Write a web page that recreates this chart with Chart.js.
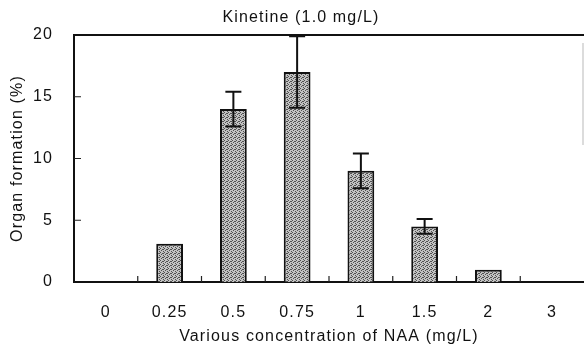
<!DOCTYPE html>
<html>
<head>
<meta charset="utf-8">
<script src="https://cdn.jsdelivr.net/npm/chart.js@4/dist/chart.umd.min.js"></script>
<style>
  html, body { margin: 0; padding: 0; background: #fff; }
</style>
</head>
<body>
<canvas id="organChart" width="584" height="349"></canvas>
<script>
// NAA concentrations (mg/L) and organ formation (%)
const naaLevels = ['0', '0.25', '0.5', '0.75', '1', '1.5', '2', '3'];
const organFormation = [0, 3.1, 14.0, 17.0, 9.0, 4.5, 1.0, 0];
const errors = [0, 0, 1.4, 2.9, 1.4, 0.6, 0, 0];
const yTicks = [0, 5, 10, 15, 20];

const canvas = document.getElementById('organChart');
const ctx = canvas.getContext('2d');

// stippled grey fill like the scanned bars
function makeStipple() {
    const p = document.createElement('canvas');
    p.width = 4; p.height = 4;
    const pc = p.getContext('2d');
    pc.fillStyle = '#c2c2c2';
    pc.fillRect(0, 0, 4, 4);
    pc.fillStyle = '#505050';
    [[0, 0], [2, 1], [1, 2], [3, 3], [3, 1]].forEach(function (d) { pc.fillRect(d[0], d[1], 1, 1); });
    return ctx.createPattern(p, 'repeat');
}

const spacing = {
    id: 'spacing',
    beforeUpdate(chart) { chart.ctx.letterSpacing = '1.15px'; },
    beforeDraw(chart) { chart.ctx.letterSpacing = '1.15px'; }
};

// frame (top/right) and inward tick marks
const frame = {
    id: 'frame',
    afterDatasetsDraw(chart) {
        const c = chart.ctx, a = chart.chartArea;
        const xs = chart.scales.x, ys = chart.scales.y;
        c.save();
        c.strokeStyle = '#111';
        c.lineWidth = 2;
        c.beginPath();
        c.moveTo(a.left, a.top); c.lineTo(a.right, a.top);
        c.stroke();
        c.strokeStyle = '#d0d0d0';
        c.lineWidth = 1.5;
        c.beginPath();
        c.moveTo(a.right - 1, a.top + 8); c.lineTo(a.right - 1, a.top + 110);
        c.stroke();
        c.strokeStyle = '#222';
        c.lineWidth = 1.2;
        c.beginPath();
        for (let i = 1; i < naaLevels.length; i++) {
            const x = (xs.getPixelForValue(i - 1) + xs.getPixelForValue(i)) / 2;
            c.moveTo(x, a.bottom); c.lineTo(x, a.bottom - 6);
        }
        yTicks.slice(1, -1).forEach(function (v) {
            const y = ys.getPixelForValue(v);
            c.moveTo(a.left, y); c.lineTo(a.left + 7, y);
        });
        c.stroke();
        c.restore();
    }
};

// error bars
const errorBars = {
    id: 'errorBars',
    afterDatasetsDraw(chart) {
        const c = chart.ctx, ys = chart.scales.y;
        const meta = chart.getDatasetMeta(0);
        c.save();
        c.strokeStyle = '#111';
        c.lineWidth = 2;
        meta.data.forEach(function (bar, i) {
            const e = errors[i];
            if (!e) return;
            const top = ys.getPixelForValue(organFormation[i] + e);
            const low = ys.getPixelForValue(organFormation[i] - e);
            c.beginPath();
            c.moveTo(bar.x, top); c.lineTo(bar.x, low);
            c.moveTo(bar.x - 8, top); c.lineTo(bar.x + 8, top);
            c.moveTo(bar.x - 8, low); c.lineTo(bar.x + 8, low);
            c.stroke();
        });
        c.restore();
    }
};

const fontFamily = '"Liberation Sans", Arial, sans-serif';

new Chart(ctx, {
    type: 'bar',
    data: {
        labels: naaLevels,
        datasets: [{
            data: organFormation,
            backgroundColor: makeStipple(),
            borderColor: '#111',
            borderWidth: 2,
            borderSkipped: 'bottom',
            categoryPercentage: 1,
            barPercentage: 0.42
        }]
    },
    options: {
        responsive: false,
        animation: false,
        layout: { padding: { left: 18, right: 0, top: 0, bottom: 0 } },
        plugins: {
            legend: { display: false },
            tooltip: { enabled: false },
            title: {
                display: true,
                text: 'Kinetine (1.0 mg/L)',
                color: '#111',
                font: { family: fontFamily, size: 16, weight: 'normal' },
                padding: { top: 8.4, bottom: 7.4 }
            }
        },
        scales: {
            x: {
                grid: { display: false, drawTicks: false },
                border: { display: true, color: '#111', width: 2 },
                ticks: { color: '#111', padding: 21.4, font: { family: fontFamily, size: 16 } },
                title: {
                    display: true,
                    text: 'Various concentration of NAA (mg/L)',
                    color: '#111',
                    font: { family: fontFamily, size: 16 },
                    padding: { top: 0, bottom: 2.4 }
                },
                afterFit(scale) { scale.height = 67; }
            },
            y: {
                min: 0,
                max: 20,
                grid: { display: false, drawTicks: false },
                border: { display: true, color: '#111', width: 2 },
                afterBuildTicks(scale) { scale.ticks = yTicks.map(function (v) { return { value: v }; }); },
                ticks: { color: '#111', padding: 21, font: { family: fontFamily, size: 16 } },
                title: {
                    display: true,
                    text: 'Organ formation (%)',
                    color: '#111',
                    font: { family: fontFamily, size: 16 },
                    padding: { top: -9.6, bottom: 0 }
                },
                afterFit(scale) { scale.width = 56; }
            }
        }
    },
    plugins: [spacing, frame, errorBars]
});
</script>
</body>
</html>
